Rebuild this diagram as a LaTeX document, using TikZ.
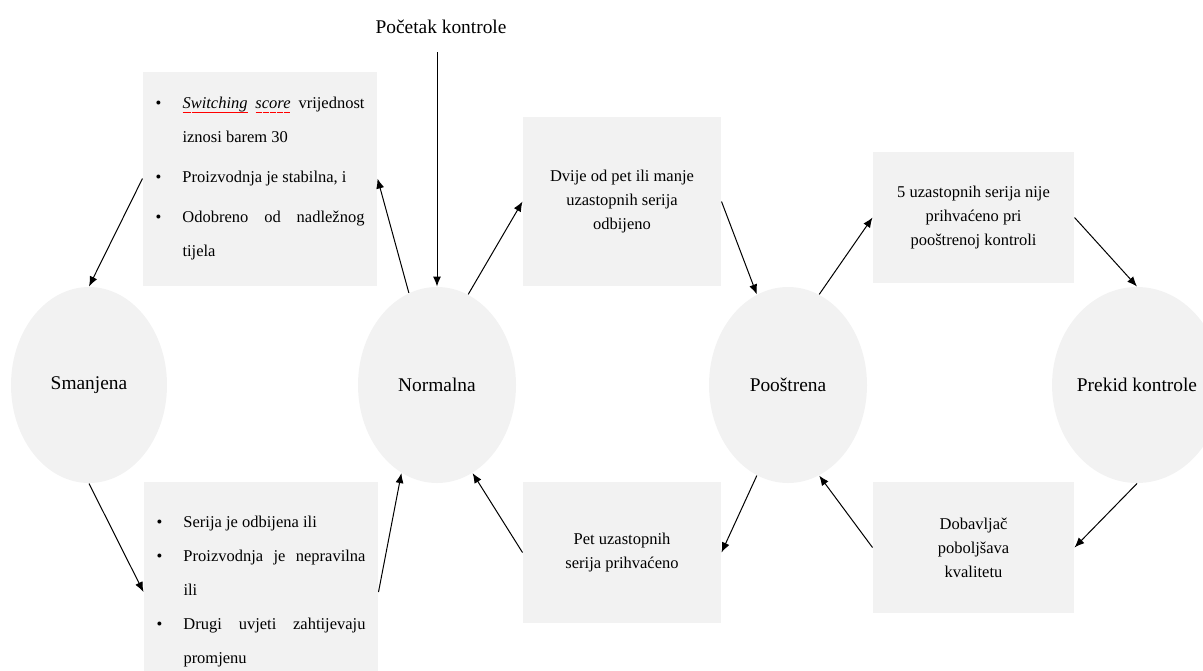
\documentclass[tikz,border=0pt]{standalone}
\usepackage{fontspec}
\setmainfont{Liberation Serif}
\usetikzlibrary{shapes.geometric,arrows.meta}
\definecolor{boxgray}{RGB}{242,242,242}
\newcommand{\itm}{\makebox[13.5pt][l]{\textbullet}}
\newcommand{\gap}{\hspace*{13.5pt}}
\newcommand{\just}[1]{\makebox[91pt][s]{#1}}
\newsavebox{\wbox}
\newcommand{\zz}{\hbox{\rule[-2.3pt]{0.55pt}{0.35pt}\rule[-1.95pt]{0.55pt}{0.35pt}}}
\newcommand{\redwave}[1]{\sbox{\wbox}{#1}\rlap{\color{red}\hbox to \wd\wbox{\xleaders\zz\hfill}}\usebox{\wbox}}
\begin{document}
\begin{tikzpicture}[x=0.5pt, y=-0.5pt, line width=0.5pt, >={Latex[length=5pt,width=4pt]},
 font=\fontsize{9.7pt}{12pt}\selectfont,
 state/.style={ellipse, fill=boxgray, inner sep=0pt, minimum width=79pt, minimum height=98pt},
 cond/.style={rectangle, fill=boxgray, inner sep=0pt, align=center, font=\fontsize{8.25pt}{12pt}\selectfont},
 list/.style={rectangle, fill=boxgray, inner sep=0pt, align=left, minimum width=117pt, minimum height=107pt, font=\fontsize{8.25pt}{17pt}\selectfont}]
 \useasboundingbox (0,0) rectangle (1203,670);
 \node[state, minimum width=78pt] (sm)  at (89,385)   {Smanjena};
 \node[state] (nor) at (437,385)  {Normalna};
 \node[state] (poo) at (788,385)  {Pooštrena};
 \node[state] (pk)  at (1137,385) {Prekid kontrole};
 \node (top) at (441,27) {Početak kontrole};
 \coordinate (start) at (437,52);
 \node[list] (c1) at (260,178.5) {\itm\just{\redwave{\textit{Switching}} \redwave{\textit{score}} vrijednost}\\
  \gap iznosi barem 30\\[3pt]
  \itm Proizvodnja je stabilna, i\\[3pt]
  \itm\just{Odobreno od nadležnog}\\
  \gap tijela};
 \node[list, minimum height=110pt] (c2) at (261,592) {\itm Serija je odbijena ili\\
  \itm\just{Proizvodnja je nepravilna}\\
  \gap ili\\
  \itm\just{Drugi uvjeti zahtijevaju}\\
  \gap promjenu};
 \node[cond, minimum width=99pt, minimum height=84.5pt] (dvije) at (622,201.5) {Dvije od pet ili manje\\uzastopnih serija\\odbijeno};
 \node[cond, minimum width=100.5pt, minimum height=65.5pt] (five) at (973.5,217.5) {5 uzastopnih serija nije\\prihvaćeno pri\\pooštrenoj kontroli};
 \node[cond, minimum width=99pt, minimum height=70.5pt] (pet) at (622,552.5) {Pet uzastopnih\\serija prihvaćeno};
 \node[cond, minimum width=100.5pt, minimum height=65.5pt] (dob) at (973.5,547.5) {Dobavljač\\poboljšava\\kvalitetu};
 \path (start) edge [->] (nor);
 \path (nor.107) edge [->] (c1.east);
 \path (c1.west) edge [->] (sm.north);
 \path (sm.south) edge [->] (c2.west);
 \path (c2.east) edge [->] (nor.248);
 \path (nor.71) edge [->] (dvije.west);
 \path (dvije.east) edge [->] (poo.109);
 \path (poo.71) edge [->] (five.west);
 \path (five.east) edge [->] (pk.north);
 \path (pk.south) edge [->] (dob.east);
 \path (dob.west) edge [->] (poo.289);
 \path (poo.251) edge [->] (pet.east);
 \path (pet.west) edge [->] (nor.292);
\end{tikzpicture}
\end{document}
